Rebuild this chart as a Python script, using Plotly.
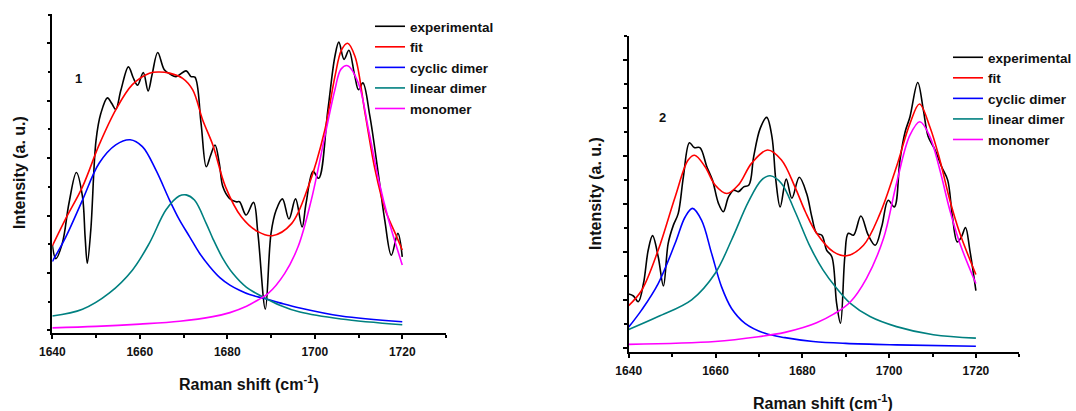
import plotly.graph_objects as go

# ---------------- data: panel 1 ----------------
p1_exp_x = [1640, 1640.8, 1642.3, 1643.8, 1645.5, 1646.9, 1647.5, 1648.0, 1648.8, 1650.0, 1651.1, 1652.6,
            1653.6, 1654.5, 1655.7, 1657.4, 1658.5, 1659.5, 1660.8, 1661.9, 1662.8, 1664.1, 1665.6, 1667.0,
            1668.3, 1670.6, 1671.7, 1672.6, 1674.0, 1675.2, 1676.2, 1677.2, 1678.2, 1679.0, 1680.5, 1682.0,
            1682.8, 1684.3, 1686.0, 1687.0, 1688.7, 1690.0, 1691.2, 1692.6, 1694.1, 1695.6, 1697.1, 1698.0,
            1699.6, 1700.9, 1703.0, 1704.6, 1705.5, 1706.7, 1707.8, 1709.1, 1710.0, 1711.0, 1712.6, 1714.5,
            1716.0, 1717.5, 1719.0, 1720.0]
p1_exp_y = [1.49, 1.25, 1.52, 2.21, 2.75, 2.33, 1.63, 1.17, 1.75, 3.31, 3.78, 4.05,
            3.95, 3.85, 4.19, 4.59, 4.40, 4.27, 4.49, 4.17, 4.45, 4.84, 4.54, 4.46,
            4.42, 4.52, 4.42, 4.41, 3.61, 2.85, 3.05, 3.23, 2.90, 2.50, 2.30, 2.24,
            2.24, 2.01, 2.23, 1.69, 0.37, 1.69, 2.10, 2.29, 1.94, 2.29, 1.80, 2.21,
            2.77, 2.65, 3.84, 4.77, 5.02, 4.72, 4.88, 4.45, 4.19, 4.31, 3.73, 2.74,
            1.92, 1.31, 1.69, 1.28]

p1_fit_x = [1640, 1643.1, 1646.9, 1650.7, 1654.5, 1658.3, 1662.2, 1664.5, 1666.8, 1669.8, 1672.1, 1674.4,
            1676.7, 1679.6, 1683.2, 1687.0, 1690.3, 1694.7, 1698.5, 1702.3, 1704.6, 1706.1, 1707.5, 1709.2,
            1711.5, 1713.8, 1716.1, 1718.4, 1720]
p1_fit_y = [1.47, 1.95, 2.50, 3.23, 3.84, 4.28, 4.48, 4.50, 4.48, 4.39, 4.19, 3.66,
            3.23, 2.50, 1.98, 1.72, 1.65, 1.86, 2.50, 3.49, 4.42, 4.88, 5.00, 4.77,
            3.78, 2.79, 2.10, 1.69, 1.40]

p1_cyc_x = [1640, 1643.1, 1646.9, 1650.7, 1654.5, 1657.8, 1660.6, 1663.7, 1666.8, 1669.1, 1671.4, 1673.7,
            1676.0, 1678.3, 1680.6, 1682.8, 1685.1, 1688.5, 1692.0, 1696.6, 1706.0, 1720]
p1_cyc_y = [1.20, 1.63, 2.27, 2.91, 3.23, 3.32, 3.20, 2.79, 2.27, 1.92, 1.63, 1.34,
            1.11, 0.92, 0.79, 0.70, 0.625, 0.555, 0.48, 0.39, 0.25, 0.15]

p1_lin_x = [1640, 1646.9, 1653.0, 1658.3, 1662.2, 1666.0, 1669.0, 1670.6, 1672.5, 1675.2, 1676.7, 1679.0,
            1681.3, 1684.4, 1688.5, 1692.0, 1696.6, 1706.0, 1720]
p1_lin_y = [0.25, 0.37, 0.65, 1.05, 1.52, 2.10, 2.34, 2.36, 2.27, 1.86, 1.60, 1.25,
            0.99, 0.75, 0.57, 0.44, 0.32, 0.20, 0.10]

p1_mon_x = [1640, 1650, 1660, 1669.1, 1676.7, 1680.6, 1684.4, 1687.0, 1689.3, 1693.1, 1696.2, 1699.2,
            1702.3, 1704.6, 1706.0, 1707.5, 1710.0, 1712.3, 1714.6, 1716.9, 1720]
p1_mon_y = [0.045, 0.07, 0.11, 0.16, 0.24, 0.31, 0.42, 0.53, 0.64, 0.99, 1.46, 2.27,
            3.38, 4.19, 4.55, 4.61, 4.30, 3.49, 2.62, 1.92, 1.14]

# ---------------- data: panel 2 ----------------
p2_exp_x = [1640, 1641.1, 1642.2, 1643.4, 1644.5, 1645.5, 1646.8, 1648.0, 1649.1, 1650.3, 1651.4, 1652.6,
            1654.0, 1655.1, 1656.4, 1658.0, 1659.3, 1660.7, 1661.8, 1663.0, 1664.2, 1665.3, 1666.5, 1667.7,
            1668.8, 1670.3, 1671.8, 1673.0, 1673.9, 1674.9, 1676.3, 1677.6, 1679.3, 1681.0, 1682.2, 1683.3,
            1684.5, 1685.6, 1686.8, 1687.9, 1688.8, 1689.8, 1690.6, 1691.8, 1693.5, 1695.2, 1696.8, 1698.3,
            1699.8, 1701.2, 1702.5, 1703.7, 1704.8, 1706.6, 1707.9, 1709.0, 1710.6, 1712.1, 1713.5, 1714.6,
            1715.7, 1716.7, 1717.6, 1718.6, 1720]
p2_exp_y = [1.12, 1.08, 0.96, 1.34, 2.04, 2.34, 1.90, 1.29, 2.18, 2.56, 2.80, 3.57,
            4.28, 4.18, 4.18, 3.78, 3.50, 3.01, 2.84, 3.15, 3.29, 3.26, 3.36, 3.40,
            3.99, 4.58, 4.81, 4.41, 3.50, 2.94, 3.52, 3.12, 3.56, 3.22, 2.73, 2.39,
            2.35, 2.04, 1.90, 0.93, 0.51, 1.90, 2.39, 2.35, 2.75, 2.35, 2.14, 2.53,
            3.08, 2.94, 3.92, 4.51, 4.82, 5.54, 4.96, 4.41, 4.13, 3.78, 3.50, 2.73,
            2.21, 2.32, 2.51, 2.04, 1.19]

p2_fit_x = [1640, 1643.0, 1646.8, 1650.7, 1653.7, 1655.2, 1657.6, 1659.9, 1662.6, 1665.3, 1668.3, 1672.0,
            1675.2, 1678.3, 1680.7, 1683.3, 1687.2, 1690.2, 1694.1, 1697.9, 1701.7, 1704.8, 1707.0, 1709.4,
            1711.7, 1714.0, 1716.3, 1720]
p2_fit_y = [0.88, 1.20, 2.04, 3.15, 3.92, 4.02, 3.78, 3.40, 3.22, 3.40, 3.85, 4.13,
            3.92, 3.36, 2.84, 2.39, 2.00, 1.92, 2.14, 2.80, 3.78, 4.68, 5.09, 4.61,
            3.92, 3.08, 2.39, 1.53]

p2_cyc_x = [1640, 1643.0, 1646.8, 1650.7, 1653.0, 1654.7, 1656.8, 1659.1, 1661.4, 1663.7, 1666.8, 1671.4,
            1676.0, 1682.5, 1690.0, 1701.7, 1720]
p2_cyc_y = [0.43, 0.79, 1.34, 2.18, 2.73, 2.91, 2.66, 1.97, 1.27, 0.82, 0.51, 0.30,
            0.21, 0.13, 0.09, 0.06, 0.03]

p2_lin_x = [1640, 1646.8, 1654.5, 1659.9, 1663.7, 1667.6, 1670.6, 1672.6, 1675.2, 1678.3, 1681.8, 1684.8,
            1687.9, 1691.0, 1695.6, 1701.7, 1710.2, 1720]
p2_lin_y = [0.38, 0.65, 1.00, 1.55, 2.25, 3.05, 3.50, 3.59, 3.43, 2.85, 2.11, 1.62,
            1.24, 0.93, 0.65, 0.44, 0.27, 0.20]

p2_mon_x = [1640, 1659.9, 1669.9, 1676.0, 1680.2, 1683.3, 1687.2, 1691.0, 1694.8, 1698.7, 1701.7, 1704.8,
            1707.1, 1709.4, 1711.7, 1714.0, 1716.3, 1720]
p2_mon_y = [0.07, 0.13, 0.23, 0.32, 0.42, 0.52, 0.70, 0.95, 1.45, 2.28, 3.43, 4.44,
            4.72, 4.41, 3.71, 2.87, 2.18, 1.34]

series_names = ["experimental", "fit", "cyclic dimer", "linear dimer", "monomer"]
series_colors = ["#000000", "#FF0000", "#0000FF", "#008080", "#FF00FF"]
x_tick_vals = [1640, 1660, 1680, 1700, 1720]
x_tick_text = ["1640", "1660", "1680", "1700", "1720"]
panel_labels = ["1", "2"]

FONT = "Liberation Sans, Arial, Helvetica, sans-serif"

panels = [
    dict(xs=[p1_exp_x, p1_fit_x, p1_cyc_x, p1_lin_x, p1_mon_x],
         ys=[p1_exp_y, p1_fit_y, p1_cyc_y, p1_lin_y, p1_mon_y],
         xa="x", ya="y", legend="legend"),
    dict(xs=[p2_exp_x, p2_fit_x, p2_cyc_x, p2_lin_x, p2_mon_x],
         ys=[p2_exp_y, p2_fit_y, p2_cyc_y, p2_lin_y, p2_mon_y],
         xa="x2", ya="y2", legend="legend2"),
]

fig = go.Figure()
for p in panels:
    for i, name in enumerate(series_names):
        fig.add_trace(go.Scatter(
            x=p["xs"][i], y=p["ys"][i], mode="lines", name=name,
            line=dict(color=series_colors[i], width=1.6, shape="spline", smoothing=1.0),
            xaxis=p["xa"], yaxis=p["ya"], legend=p["legend"], hoverinfo="skip"))

W, H = 1076, 411


def px(sx):
    return sx / W


def py(sy):
    return (H - sy) / H


def xaxis(domain, anchor):
    return dict(domain=domain, anchor=anchor, range=[1640, 1730], tickmode="array",
                tickvals=x_tick_vals, ticktext=x_tick_text, ticks="outside", ticklen=4,
                tickwidth=1.5, tickcolor="black", showline=True, linecolor="black", linewidth=1.6,
                showgrid=False, zeroline=False, automargin=False, ticklabelstandoff=2,
                tickfont=dict(family=FONT, size=12, color="#111111", weight="bold"),
                minor=dict(tickmode="linear", tick0=1650, dtick=20, ticks="outside", ticklen=2.5,
                           tickwidth=1.5, tickcolor="black", showgrid=False))


def yaxis(domain, anchor, rng):
    return dict(domain=domain, anchor=anchor, range=rng, tickmode="linear", tick0=0, dtick=1,
                ticks="outside", ticklen=4, tickwidth=1.5, tickcolor="black", showticklabels=False,
                showline=True, linecolor="black", linewidth=1.6, showgrid=False, zeroline=False,
                automargin=False,
                minor=dict(tickmode="linear", tick0=0.5, dtick=1, ticks="outside", ticklen=2.5,
                           tickwidth=1.5, tickcolor="black", showgrid=False))


legend_font = dict(family=FONT, size=13.5, color="#111111", weight="bold")

fig.update_layout(
    width=W, height=H, margin=dict(l=0, r=0, t=0, b=0, autoexpand=False),
    paper_bgcolor="white", plot_bgcolor="white", showlegend=True, hovermode=False,
    xaxis=xaxis([px(52.3), px(446)], "y"),
    yaxis=yaxis([py(333.3), py(14)], "x", [-0.05, 5.51]),
    xaxis2=xaxis([px(628.7), px(1019.3)], "y2"),
    yaxis2=yaxis([py(352.3), py(36)], "x2", [-0.096, 6.51]),
    legend=dict(x=px(370), y=py(11), xanchor="left", yanchor="top",
                bgcolor="rgba(0,0,0,0)", font=legend_font, tracegroupgap=0),
    legend2=dict(x=px(948), y=py(42), xanchor="left", yanchor="top",
                 bgcolor="rgba(0,0,0,0)", font=legend_font, tracegroupgap=0),
)

title_font = dict(family=FONT, size=16, color="#111111")
annos = [
    dict(text="<b>Raman shift (cm<sup>-1</sup>)</b>", x=px(249), y=py(383)),
    dict(text="<b>Raman shift (cm<sup>-1</sup>)</b>", x=px(823), y=py(402)),
    dict(text="<b>Intensity (a. u.)</b>", x=px(19), y=py(173), textangle=-90),
    dict(text="<b>Intensity (a. u.)</b>", x=px(595), y=py(194), textangle=-90),
]
for a in annos:
    fig.add_annotation(xref="paper", yref="paper", xanchor="center", yanchor="middle",
                       showarrow=False, font=title_font, **a)

fig.add_annotation(xref="x", yref="y", x=1646.1, y=4.38, text="<b>%s</b>" % panel_labels[0],
                   showarrow=False, font=dict(family=FONT, size=13, color="#111111"))
fig.add_annotation(xref="x2", yref="y2", x=1647.9, y=4.80, text="<b>%s</b>" % panel_labels[1],
                   showarrow=False, font=dict(family=FONT, size=13, color="#111111"))

# remove the browser's default 8px body margin so the 1076x411 figure fills the window exactly
fig.write_html("out.html", config={"displayModeBar": False, "staticPlot": False},
               post_script="document.body.style.margin='0';document.body.style.overflow='hidden';")
